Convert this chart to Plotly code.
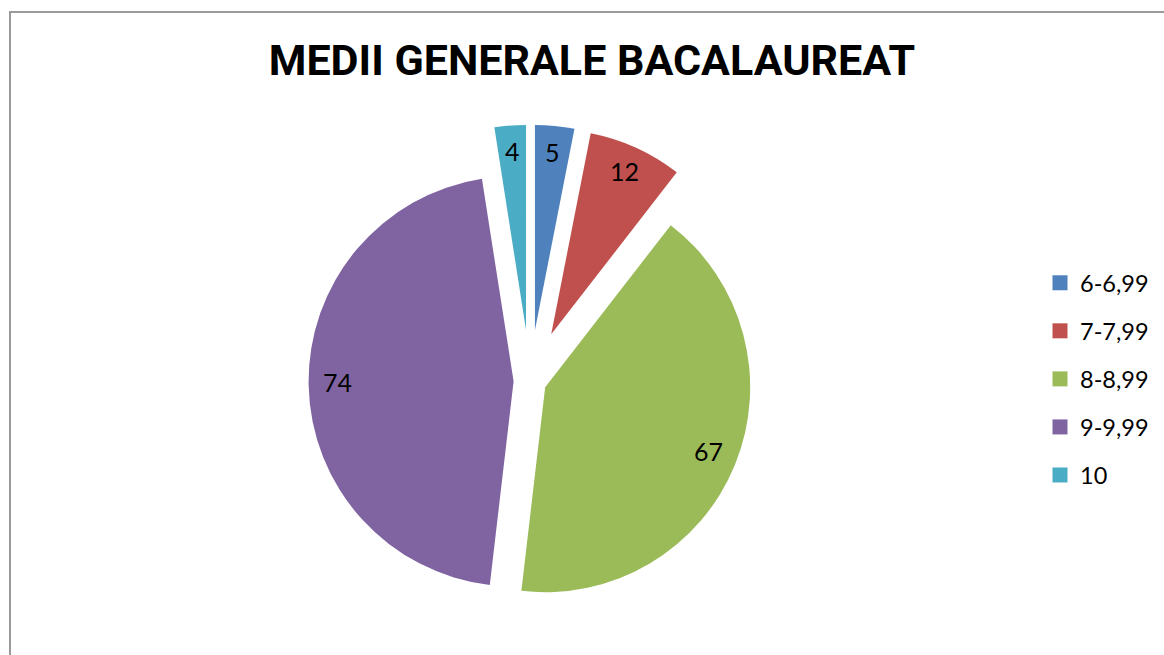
import numpy as np
import plotly.graph_objects as go

W, H = 1164, 655

title_text = "MEDII GENERALE BACALAUREAT"
categories = ["6-6,99", "7-7,99", "8-8,99", "9-9,99", "10"]
values = [5, 12, 67, 74, 4]
colors = ["#4F81BD", "#C0504D", "#9BBB59", "#8064A2", "#4BACC6"]
pulls = [0.25, 0.25, 0.08, 0.08, 0.25]

# pie geometry (pixels in the page)
CX, CY, R = 530, 381, 205
half = R * (1 + max(pulls))
dom_x = [(CX - half) / W, (CX + half) / W]
dom_y = [1 - (CY + half) / H, 1 - (CY - half) / H]

legend_font = dict(family="Lato, 'Open Sans', sans-serif", size=23.5, color="#000000")
label_font = dict(family="Lato, 'Open Sans', sans-serif", size=25, color="#000000")

fig = go.Figure()
fig.add_trace(go.Pie(
    labels=categories, values=values, sort=False, direction="clockwise", rotation=0,
    pull=pulls, marker=dict(colors=colors, line=dict(width=0)),
    textinfo="none", hoverinfo="label+value", showlegend=False,
    domain=dict(x=dom_x, y=dom_y),
))

# legend entries (one group per category for spacing)
for cat, col in zip(categories, colors):
    fig.add_trace(go.Scatter(
        x=[None], y=[None], mode="markers", name=cat, legendgroup=cat,
        marker=dict(symbol="square", size=15, color=col), hoverinfo="skip",
    ))

# value labels placed along each slice's bisector
total = float(sum(values))
cum = np.concatenate([[0], np.cumsum(values)])
annotations = []
for i, v in enumerate(values):
    mid = (cum[i] + v / 2) / total * 2 * np.pi
    d = (pulls[i] + 0.86) * R
    px = CX + d * np.sin(mid)
    py = CY - d * np.cos(mid)
    annotations.append(dict(x=px / W, y=1 - py / H, xref="paper", yref="paper",
                            text=str(v), showarrow=False, font=label_font,
                            xanchor="center", yanchor="middle", yshift=3))

fig.update_layout(
    width=W, height=H,
    margin=dict(l=0, r=0, t=0, b=0),
    paper_bgcolor="white", plot_bgcolor="white",
    xaxis=dict(visible=False), yaxis=dict(visible=False),
    title=dict(text=title_text,
               x=592 / W, xanchor="center", xref="paper",
               y=1 - 60 / H, yref="container", yanchor="middle",
               font=dict(family="Roboto, sans-serif",
                         size=43, color="#000000", weight="bold")),
    legend=dict(x=1040 / W, xanchor="left", y=1 - 261 / H, yanchor="top",
                font=legend_font, tracegroupgap=14.5, bgcolor="rgba(0,0,0,0)",
                borderwidth=0),
    annotations=annotations,
    shapes=[dict(type="rect", xref="paper", yref="paper",
                 x0=10 / W, x1=1.05, y0=-0.05, y1=1 - 12 / H,
                 line=dict(color="#9a9a9a", width=2), fillcolor="rgba(0,0,0,0)")],
)

fig.write_html("out.html", config=dict(displayModeBar=False),
               post_script="document.body.style.margin='0px';")
